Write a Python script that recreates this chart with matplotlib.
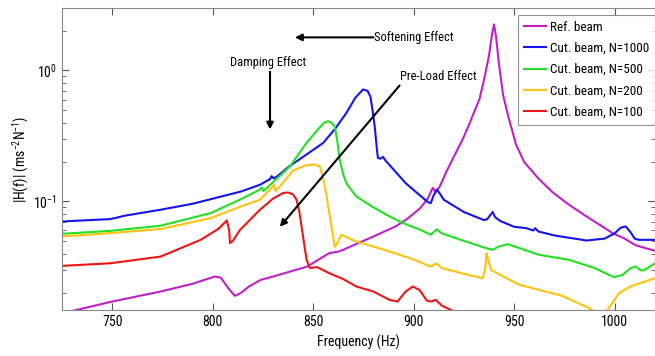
import matplotlib
matplotlib.use("Agg")
import matplotlib.pyplot as plt
from matplotlib import font_manager as fm

# Frequency response |H(f)| of the reference beam and the cut beams
ref_f = [725, 732, 750, 774, 790, 801, 804, 808, 811, 814, 818, 824, 830, 847, 858, 863,
         880, 891, 897, 903, 907, 909.5, 911, 913, 916, 920, 924.5, 928, 930.5, 932.7, 935,
         937.5, 939, 940, 941, 942.5, 944.5, 947, 951, 955, 962, 969, 977, 986, 999, 1005,
         1009.5, 1011, 1020]
ref_h = [0.0138, 0.0148, 0.0172, 0.0205, 0.0235, 0.0267, 0.0262, 0.0215, 0.019, 0.020, 0.0224,
         0.0252, 0.0267, 0.0318, 0.0403, 0.0415, 0.054, 0.0644, 0.074, 0.088, 0.105, 0.127,
         0.118, 0.13, 0.165, 0.22, 0.3, 0.4, 0.5, 0.6, 0.85, 1.3, 1.9, 2.25, 1.8, 1.1, 0.65,
         0.45, 0.27, 0.2, 0.15, 0.118, 0.095, 0.0768, 0.0573, 0.052, 0.0472, 0.046, 0.042]

n1000_f = [725, 749, 752, 756, 774, 790, 799, 814, 823.5, 828.5, 829.3, 830.3, 832, 838, 847,
           855, 861, 866.5, 871, 874.8, 877, 878.5, 879.5, 880.6, 881.6, 882.2, 883.5, 884.7,
           886, 890, 896, 902, 907, 908.5, 910, 911.5, 913, 915, 925, 935, 936.5, 939.3,
           940.5, 943, 950, 956, 959.5, 960.5, 962, 970, 986, 995, 1000, 1003, 1005.5, 1008,
           1010, 1012, 1020]
n1000_h = [0.0703, 0.0733, 0.075, 0.0777, 0.0864, 0.096, 0.104, 0.119, 0.134, 0.148, 0.156,
           0.150, 0.155, 0.185, 0.23, 0.28, 0.36, 0.474, 0.62, 0.716, 0.70, 0.63, 0.5, 0.375,
           0.26, 0.215, 0.212, 0.219, 0.205, 0.175, 0.138, 0.115, 0.099, 0.097, 0.112, 0.123,
           0.115, 0.103, 0.083, 0.072, 0.073, 0.083, 0.076, 0.071, 0.064, 0.0625, 0.06, 0.0625,
           0.059, 0.055, 0.0503, 0.052, 0.057, 0.063, 0.0644, 0.058, 0.052, 0.0509, 0.0509]

n500_f = [725, 749, 774, 799, 814, 823, 824.5, 825.3, 826.5, 838.4, 846.7, 852, 855.5, 857.4,
          859, 860.7, 862, 863.2, 865, 866.5, 868.5, 871.5, 880, 888, 895, 903, 908.5, 911.5,
          914, 925, 936, 939.4, 942, 946.8, 952.6, 962.5, 977.4, 990, 999.7, 1004, 1008,
          1010.5, 1013, 1014.6, 1020]
n500_h = [0.0566, 0.0596, 0.0652, 0.0815, 0.104, 0.122, 0.128, 0.120, 0.125, 0.185, 0.28, 0.35,
          0.40, 0.41, 0.40, 0.375, 0.29, 0.209, 0.16, 0.138, 0.125, 0.109, 0.09, 0.0768, 0.068,
          0.061, 0.0556, 0.0613, 0.057, 0.05, 0.044, 0.0427, 0.045, 0.0472, 0.044, 0.0391,
          0.0358, 0.031, 0.0264, 0.0275, 0.031, 0.0318, 0.0298, 0.0298, 0.0336]

n200_f = [725, 749, 774, 799, 814, 823.5, 829.5, 830.5, 831.3, 833, 840, 846, 850.8, 853.3,
          854.5, 855.8, 858.3, 860.7, 862, 864, 871.5, 888, 900, 908.5, 911.5, 914, 925, 934.4,
          935.5, 936.3, 937.3, 938.5, 945, 952.6, 962.5, 974, 985.7, 990, 996, 1002.2, 1008,
          1020]
n200_h = [0.054, 0.0573, 0.0615, 0.0746, 0.0916, 0.103, 0.128, 0.134, 0.120, 0.128, 0.172,
          0.188, 0.191, 0.185, 0.16, 0.13, 0.0768, 0.045, 0.048, 0.0556, 0.0494, 0.0415, 0.036,
          0.0318, 0.0337, 0.031, 0.028, 0.0259, 0.030, 0.0403, 0.035, 0.030, 0.0265, 0.0231,
          0.0211, 0.019, 0.0157, 0.0145, 0.0145, 0.0199, 0.0225, 0.0259]

n100_f = [725, 749, 774, 794, 803, 807, 808.2, 808.6, 810, 813.6, 823.5, 830, 835, 837.5, 840,
          841.7, 843, 844.2, 846.7, 848.3, 852, 858, 865, 871.5, 880, 888, 892, 896, 899.6,
          903, 906.5, 908.5, 911, 914, 919.5, 922]
n100_h = [0.0322, 0.0337, 0.0379, 0.0509, 0.062, 0.0716, 0.060, 0.048, 0.050, 0.0607, 0.0864,
          0.105, 0.116, 0.117, 0.113, 0.103, 0.085, 0.0644, 0.0358, 0.031, 0.0315, 0.0283,
          0.0255, 0.0224, 0.0205, 0.0177, 0.0172, 0.0205, 0.0224, 0.021, 0.0175, 0.0172,
          0.0177, 0.016, 0.0146, 0.013]

series = [
    (ref_f, ref_h, "#C020C8", "Ref. beam"),
    (n1000_f, n1000_h, "#1414F0", "Cut. beam, N=1000"),
    (n500_f, n500_h, "#22E022", "Cut. beam, N=500"),
    (n200_f, n200_h, "#FFC20E", "Cut. beam, N=200"),
    (n100_f, n100_h, "#F01414", "Cut. beam, N=100"),
]

# look for a narrow font, the original uses a condensed face
fonts = fm.fontManager.ttflist
names = {f.name for f in fonts}
narrow = None
for cand in ["Liberation Sans Narrow", "Roboto Condensed", "Open Sans Condensed",
             "DejaVu Sans Condensed", "Noto Sans Condensed"]:
    if cand in names:
        narrow = cand
        break
stretch = "normal"
if narrow is None:
    for f in fonts:
        if f.name in ("DejaVu Sans", "Roboto", "Open Sans", "Noto Sans") and \
                str(f.stretch) in ("condensed", "semi-condensed", "extra-condensed", "75", "87"):
            narrow = f.name
            stretch = f.stretch
            break

if narrow:
    family, fs, lfs = narrow, 10, 9.5
else:
    family, fs, lfs = "DejaVu Sans", 8.5, 8
plt.rcParams["font.family"] = [family, "DejaVu Sans"]
plt.rcParams["font.stretch"] = stretch
plt.rcParams["mathtext.fontset"] = "custom"
plt.rcParams["mathtext.rm"] = family
plt.rcParams["mathtext.it"] = family
plt.rcParams["mathtext.bf"] = family

fig = plt.figure(figsize=(6.55, 3.56), dpi=100)
ax = fig.add_axes([0.0947, 0.129, 0.905, 0.8485])

for f, h, c, lab in series:
    ax.plot(f, h, color=c, lw=1.5, label=lab)

ax.set_yscale("log")
ax.set_xlim(725, 1020)
ax.set_ylim(0.0148, 3.0)
ax.set_xticks([750, 800, 850, 900, 950, 1000])
ax.tick_params(which="both", direction="in", top=True, right=True, colors="#555555",
               labelcolor="black", labelsize=fs)
ax.tick_params(which="major", length=5)
ax.tick_params(which="minor", length=3)
for s in ax.spines.values():
    s.set_color("#888888")

ax.set_xlabel("Frequency (Hz)", fontsize=fs, labelpad=4)
ax.set_ylabel("|H(f)| (ms$^{-2}$N$^{-1}$)", fontsize=fs, labelpad=2)

# annotations
arrow = dict(arrowstyle="-|>", color="black", lw=1.5, mutation_scale=10, shrinkA=0, shrinkB=0)
ax.annotate("", xy=(840.9, 1.79), xytext=(880, 1.79), arrowprops=arrow)
ax.text(880.5, 1.79, "Softening Effect", fontsize=fs - 1, va="center", ha="left")
ax.text(827.5, 1.15, "Damping Effect", fontsize=fs - 1, va="center", ha="center")
ax.annotate("", xy=(828.5, 0.354), xytext=(828.5, 0.98), arrowprops=arrow)
ax.text(893, 0.9, "Pre-Load Effect", fontsize=fs - 1, va="center", ha="left")
ax.annotate("", xy=(833.4, 0.064), xytext=(893, 0.768), arrowprops=arrow)

leg = ax.legend(loc="upper right", bbox_to_anchor=(1.0, 0.977), fontsize=lfs,
                frameon=True, fancybox=False, handlelength=1.7, handletextpad=0.25,
                borderaxespad=0, labelspacing=0.62, borderpad=0.45)
leg.get_frame().set_edgecolor("#777777")
leg.get_frame().set_linewidth(0.8)

fig.savefig("out.png", dpi=100)
